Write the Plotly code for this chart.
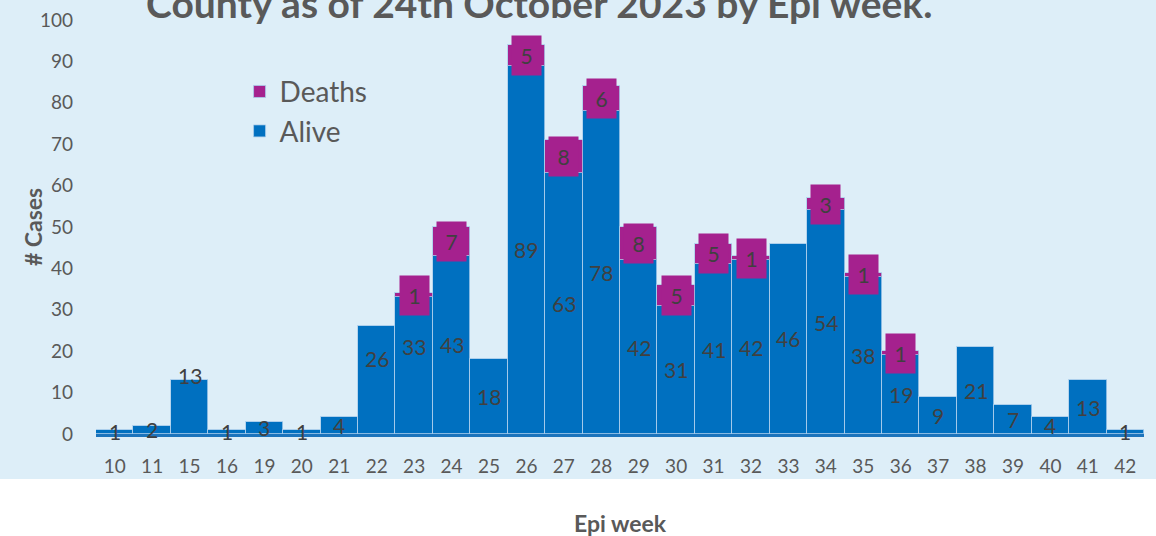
import plotly.graph_objects as go

weeks = ["10", "11", "15", "16", "19", "20", "21", "22", "23", "24", "25", "26", "27", "28", "29",
         "30", "31", "32", "33", "34", "35", "36", "37", "38", "39", "40", "41", "42"]
alive = [1, 2, 13, 1, 3, 1, 4, 26, 33, 43, 18, 89, 63, 78, 42,
         31, 41, 42, 46, 54, 38, 19, 9, 21, 7, 4, 13, 1]
deaths = [0, 0, 0, 0, 0, 0, 0, 0, 1, 7, 0, 5, 8, 6, 8,
          5, 5, 1, 0, 3, 1, 1, 0, 0, 0, 0, 0, 0]

# label nudges (pixels) for a few alive labels
alive_label_shift = {"15": 32, "22": 22, "23": 19}

FONT = "Lato"
BLUE = "#0070C0"
MAGENTA = "#A5218E"
TXT = "#404040"

fig = go.Figure()
fig.add_trace(go.Bar(x=weeks, y=alive, name="Alive", marker_color=BLUE,
                     marker_line=dict(color="rgba(170,205,235,0.8)", width=1)))
fig.add_trace(go.Bar(x=weeks, y=deaths, name="Deaths", marker_color=MAGENTA,
                     marker_line=dict(color="rgba(170,205,235,0.8)", width=1)))

annotations = []
for i, (w, a) in enumerate(zip(weeks, alive)):
    annotations.append(dict(x=i, y=a / 2, xref="x", yref="y", text=str(a), showarrow=False,
                            yshift=alive_label_shift.get(w, 0),
                            font=dict(family=FONT, size=21, color=TXT)))
for i, (a, d) in enumerate(zip(alive, deaths)):
    if d > 0:
        annotations.append(dict(x=i, y=a + d / 2, xref="x", yref="y", text=str(d), showarrow=False,
                                bgcolor=MAGENTA, width=15, height=25, borderpad=7,
                                font=dict(family=FONT, size=21, color=TXT)))

annotations.append(dict(x=0.4227, y=1.0, xref="paper", yref="paper", xanchor="center", yanchor="bottom",
                        yshift=-8,
                        text="<b>County as of 24th October 2023 by Epi week.</b>", showarrow=False,
                        font=dict(family=FONT, size=39, color="#595959")))
annotations.append(dict(x=0.5, y=-0.215, xref="paper", yref="paper", xanchor="center", yanchor="middle",
                        text="<b>Epi week</b>", showarrow=False,
                        font=dict(family=FONT, size=23, color="#595959")))
annotations.append(dict(x=-0.06, y=0.50, xref="paper", yref="paper", xanchor="center", yanchor="middle",
                        text="<b># Cases</b>", showarrow=False, textangle=-90,
                        font=dict(family=FONT, size=23, color="#595959")))

fig.update_layout(
    width=1156, height=536,
    margin=dict(l=96, r=12, t=20, b=102, autoexpand=False),
    barmode="stack", bargap=0,
    paper_bgcolor="white", plot_bgcolor="rgba(0,0,0,0)",
    font=dict(family=FONT, color="#595959"),
    showlegend=True,
    legend=dict(x=0.137, y=0.887, xanchor="left", yanchor="top", traceorder="reversed",
                bgcolor="rgba(0,0,0,0)", font=dict(family=FONT, size=28, color="#595959"),
                tracegroupgap=0),
    annotations=annotations,
    shapes=[dict(type="rect", xref="paper", yref="paper", x0=-0.2, x1=1.2, y0=-0.1087, y1=1.2,
                 fillcolor="#DDEEF8", line_width=0, layer="below")],
)
fig.update_xaxes(type="category", range=[-0.5, len(weeks) - 0.5], autorange=False, automargin=False,
                 showgrid=False, showline=True, linecolor="#1C74BC", linewidth=3,
                 ticks="", ticklabelstandoff=13, tickfont=dict(family=FONT, size=19, color="#595959"),
                 zeroline=False)
fig.update_yaxes(range=[0, 100], autorange=False, automargin=False, dtick=10, showgrid=False,
                 zeroline=False, showline=False,
                 ticks="", ticklabelstandoff=22, tickfont=dict(family=FONT, size=19, color="#595959"))

fig.write_html("out.html", config={"displayModeBar": False},
               post_script="document.body.style.margin='0';")
